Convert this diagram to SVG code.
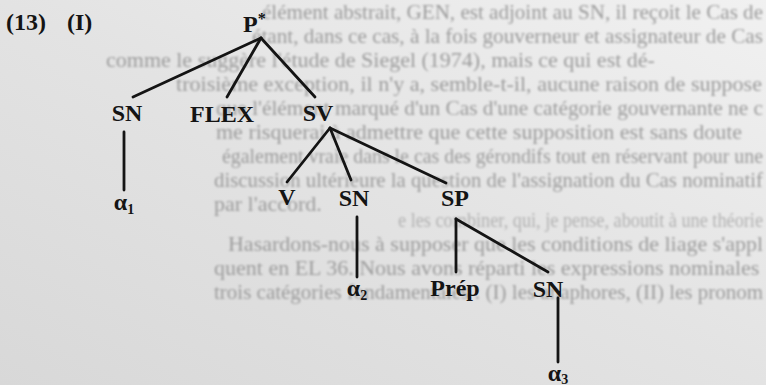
<svg xmlns="http://www.w3.org/2000/svg" width="766" height="385" viewBox="0 0 766 385">
  <defs>
    <linearGradient id="paper" x1="1" y1="0" x2="0" y2="1">
      <stop offset="0" stop-color="#f1f1f1"/>
      <stop offset="0.5" stop-color="#e3e3e3"/>
      <stop offset="1" stop-color="#d8d8d8"/>
    </linearGradient>
    <filter id="soft" x="-5%" y="-20%" width="110%" height="140%">
      <feGaussianBlur stdDeviation="1"/>
    </filter>
    <style>
      .page { font-family: "Liberation Serif", "Times New Roman", serif; font-size: 22px; fill: #9c9c9c; }
      .lbl { font-family: "Liberation Serif", "Times New Roman", serif; font-size: 24px; font-weight: bold; fill: #141414; text-anchor: middle; }
      .num { font-family: "Liberation Serif", "Times New Roman", serif; font-size: 24px; font-weight: bold; fill: #141414; }
      .sub { font-size: 14px; }
      .edge { stroke: #141414; stroke-width: 2.8; stroke-linecap: round; fill: none; }
    </style>
  </defs>

  <!-- paper -->
  <rect x="0" y="0" width="766" height="385" fill="url(#paper)"/>

  <!-- running text of the page, printed behind the tree -->
  <g id="page-text" class="page" filter="url(#soft)">
    <text x="262" y="19" textLength="501" lengthAdjust="spacingAndGlyphs">élément abstrait, GEN, est adjoint au SN, il reçoit le Cas de</text>
    <text x="252" y="43" textLength="511" lengthAdjust="spacingAndGlyphs">étant, dans ce cas, à la fois gouverneur et assignateur de Cas</text>
    <text x="106" y="67">comme le suggère l'étude de Siegel (1974), mais ce qui est dé-</text>
    <text x="176" y="91" textLength="586" lengthAdjust="spacingAndGlyphs">troisième exception, il n'y a, semble-t-il, aucune raison de suppose</text>
    <text x="216" y="115" textLength="547" lengthAdjust="spacingAndGlyphs">que l'élément marqué d'un Cas d'une catégorie gouvernante ne c</text>
    <text x="216" y="139">me risquerai à admettre que cette supposition est sans doute</text>
    <text x="222" y="163" textLength="541" lengthAdjust="spacingAndGlyphs">également vraie dans le cas des gérondifs tout en réservant pour une</text>
    <text x="214" y="187" textLength="549" lengthAdjust="spacingAndGlyphs">discussion ultérieure la question de l'assignation du Cas nominatif</text>
    <text x="214" y="211">par l'accord.</text>
    <text x="398" y="227" fill="#b2b2b2" textLength="365" lengthAdjust="spacingAndGlyphs">e les combiner, qui, je pense, aboutit à une théorie</text>
    <text x="228" y="251" textLength="535" lengthAdjust="spacingAndGlyphs">Hasardons-nous à supposer que les conditions de liage s'appl</text>
    <text x="214" y="275">quent en EL 36. Nous avons réparti les expressions nominales</text>
    <text x="214" y="299" textLength="549" lengthAdjust="spacingAndGlyphs">trois catégories fondamentales : (I) les anaphores, (II) les pronom</text>
  </g>

  <!-- example number -->
  <g id="example-number">
    <text class="num" x="6" y="30">(13)</text>
    <text class="num" x="67" y="30">(I)</text>
  </g>

  <!-- tree branches -->
  <g id="connectors">
    <line class="edge" x1="261" y1="38" x2="133" y2="97"/>
    <line class="edge" x1="261" y1="38" x2="227" y2="97"/>
    <line class="edge" x1="261" y1="38" x2="315" y2="97"/>
    <line class="edge" x1="124" y1="132" x2="124" y2="190"/>
    <line class="edge" x1="330" y1="128" x2="287" y2="182"/>
    <line class="edge" x1="330" y1="128" x2="351" y2="180"/>
    <line class="edge" x1="330" y1="128" x2="446" y2="183"/>
    <line class="edge" x1="357" y1="217" x2="357" y2="277"/>
    <line class="edge" x1="456" y1="219" x2="456" y2="272"/>
    <line class="edge" x1="456" y1="219" x2="548" y2="272"/>
    <line class="edge" x1="558" y1="298" x2="558" y2="362"/>
  </g>

  <!-- nodes -->
  <g id="node-P">
    <text class="num" x="243" y="32">P<tspan font-size="16" dy="-8">*</tspan></text>
  </g>
  <g id="node-SN1">
    <text class="lbl" x="127" y="121">SN</text>
  </g>
  <g id="node-FLEX">
    <text class="lbl" x="222" y="122">FLEX</text>
  </g>
  <g id="node-SV">
    <text class="lbl" x="318" y="121">SV</text>
  </g>
  <g id="node-alpha1">
    <text class="lbl" x="124" y="210">α<tspan class="sub" dy="4">1</tspan></text>
  </g>
  <g id="node-V">
    <text class="lbl" x="287" y="205">V</text>
  </g>
  <g id="node-SN2">
    <text class="lbl" x="354" y="206">SN</text>
  </g>
  <g id="node-SP">
    <text class="lbl" x="455" y="206">SP</text>
  </g>
  <g id="node-alpha2">
    <text class="lbl" x="357" y="296">α<tspan class="sub" dy="4">2</tspan></text>
  </g>
  <g id="node-Prep">
    <text class="lbl" x="455" y="296">Prép</text>
  </g>
  <g id="node-SN3">
    <text class="lbl" x="548" y="297">SN</text>
  </g>
  <g id="node-alpha3">
    <text class="lbl" x="558" y="381">α<tspan class="sub" dy="3">3</tspan></text>
  </g>
</svg>
